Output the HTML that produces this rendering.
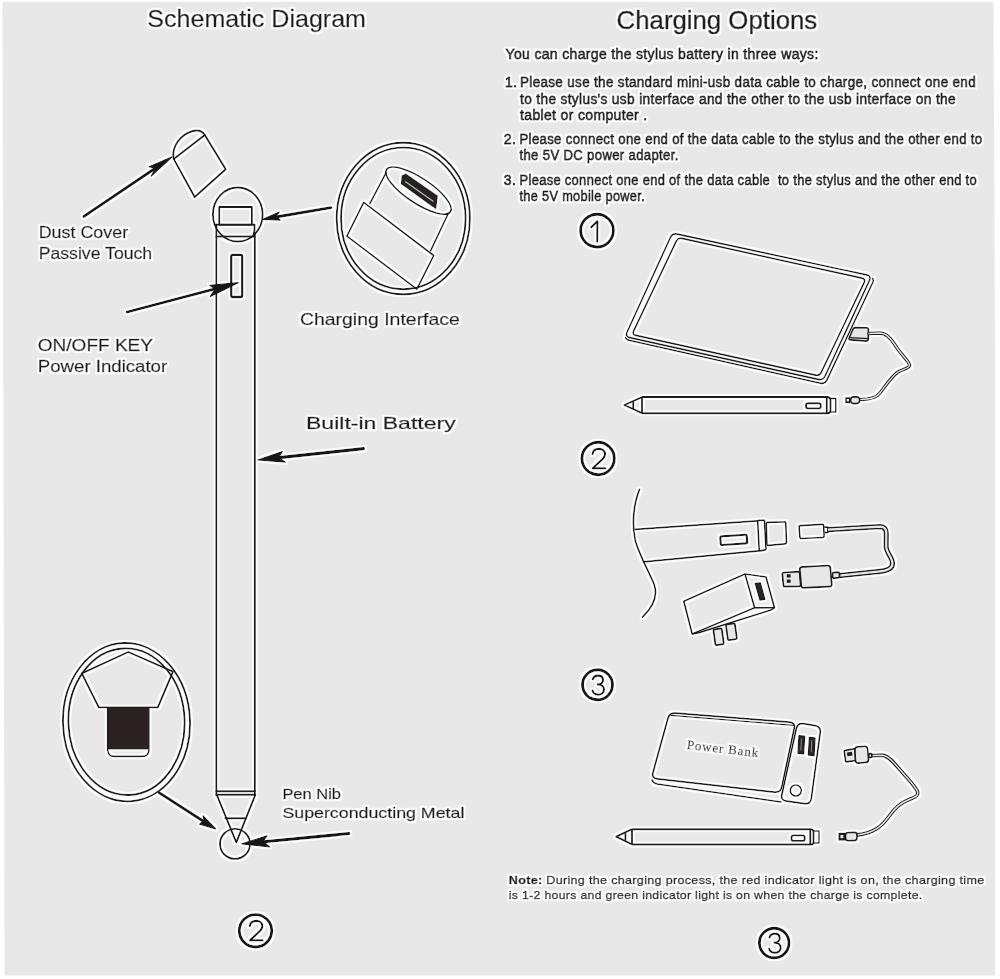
<!DOCTYPE html>
<html><head><meta charset="utf-8">
<style>
html,body{margin:0;padding:0;background:#ffffff;width:1000px;height:979px;overflow:hidden}
svg{display:block}
.t{font-family:"Liberation Sans",sans-serif;fill:#1b1b1b;stroke:#1b1b1b;stroke-width:0.42px}
.h{stroke-width:0.6px}
.b{stroke-width:0.85px}
.s{font-family:"Liberation Serif",serif;fill:#2a2a2a}
</style></head><body>
<svg width="1000" height="979" viewBox="0 0 1000 979">
<defs><filter id="halo" x="0" y="0" width="1000" height="979" filterUnits="userSpaceOnUse">
<feMorphology in="SourceAlpha" operator="dilate" radius="1.5" result="d"/>
<feGaussianBlur in="d" stdDeviation="0.7" result="db"/>
<feFlood flood-color="#fbfbfb"/>
<feComposite in2="db" operator="in" result="w"/>
<feMerge><feMergeNode in="w"/><feMergeNode in="SourceGraphic"/></feMerge>
</filter></defs>
<path d="M2.5 1.8 L993.5 1.8 L995.2 400 L995.2 975.5 L4.5 975.5 Z" fill="#e8e8e8"/>
<g filter="url(#halo)">
<!-- ===== LEFT: titles & labels ===== -->
<g class="t" opacity="0.999">
<text x="147.3" y="26.8" font-size="24.8" textLength="218.7" lengthAdjust="spacingAndGlyphs">Schematic Diagram</text>
<text x="38.7" y="238.2" font-size="17" textLength="89.5" lengthAdjust="spacingAndGlyphs">Dust Cover</text>
<text x="38.7" y="258.5" font-size="17" textLength="113.5" lengthAdjust="spacingAndGlyphs">Passive Touch</text>
<text x="37.8" y="351" font-size="16.7" textLength="115.2" lengthAdjust="spacingAndGlyphs">ON/OFF KEY</text>
<text x="37.8" y="372.3" font-size="16.7" textLength="129.4" lengthAdjust="spacingAndGlyphs">Power Indicator</text>
<text x="299.9" y="325.2" font-size="16.7" textLength="160" lengthAdjust="spacingAndGlyphs">Charging Interface</text>
<text x="306" y="428.8" font-size="17" textLength="149.7" lengthAdjust="spacingAndGlyphs">Built-in Battery</text>
<text x="282.4" y="799" font-size="14.5" textLength="58.6" lengthAdjust="spacingAndGlyphs">Pen Nib</text>
<text x="282.4" y="817.6" font-size="15" textLength="182" lengthAdjust="spacingAndGlyphs">Superconducting Metal</text>
</g>

<!-- ===== RIGHT: text ===== -->
<g class="t" opacity="0.999">
<text x="616.6" y="29" font-size="26.5" textLength="200.6" class="h" lengthAdjust="spacingAndGlyphs">Charging Options</text>
<g font-size="14" letter-spacing="0.35" class="b">
<text x="505.5" y="59.4" textLength="313.2" lengthAdjust="spacingAndGlyphs">You can charge the stylus battery in three ways:</text>
<text x="505" y="87.2">1.</text>
<text x="520" y="87.2" textLength="456" lengthAdjust="spacingAndGlyphs">Please use the standard mini-usb data cable to charge, connect one end</text>
<text x="520" y="103.5" textLength="436" lengthAdjust="spacingAndGlyphs">to the stylus's usb interface and the other to the usb interface on the</text>
<text x="520" y="119.5">tablet or computer .</text>
<text x="503.8" y="143.8">2.</text>
<text x="519.5" y="143.8" textLength="463" lengthAdjust="spacingAndGlyphs">Please connect one end of the data cable to the stylus and the other end to</text>
<text x="519.5" y="159.5" textLength="159.2" lengthAdjust="spacingAndGlyphs">the 5V DC power adapter.</text>
<text x="503.8" y="185">3.</text>
<text x="519.5" y="185" textLength="457.5" lengthAdjust="spacingAndGlyphs">Please connect one end of the data cable&#160; to the stylus and the other end to</text>
<text x="519.5" y="200.5" textLength="125.5" lengthAdjust="spacingAndGlyphs">the 5V mobile power.</text>
</g>
<g font-size="11.8" letter-spacing="0.3" class="b" style="stroke-width:0.5px">
<text x="508.8" y="883.8" textLength="475.7" lengthAdjust="spacingAndGlyphs"><tspan font-weight="bold">Note:</tspan> During the charging process, the red indicator light is on, the charging time</text>
<text x="508.8" y="898.8" textLength="413.7" lengthAdjust="spacingAndGlyphs">is 1-2 hours and green indicator light is on when the charge is complete.</text>
</g>
</g>

<!-- ===== LEFT drawings ===== -->
<g fill="none" stroke="#1a1a1a" stroke-width="1.9" stroke-linejoin="round" stroke-linecap="round">
<!-- dust cover -->
<path d="M173.8 159.1 L204.8 135 L225.7 169.2 L194.7 197 Z"/>
<path d="M173.6 158.5 C171.5 147 180 134.5 193 131 C198.5 129.8 202.5 131.3 204.8 135"/>
<!-- stylus top -->
<ellipse cx="237.75" cy="214.5" rx="24.85" ry="27"/>
<rect x="219.2" y="207" width="32.7" height="17.7"/>
<path d="M215.8 224.7 L254.4 224.7"/>
<path d="M254.4 224.7 Q255.2 230 253.5 234.8"/>
<path d="M216.3 236.5 L254.8 236.5"/>
<!-- body -->
<path d="M216.3 224.7 L216.3 795"/>
<path d="M254.9 233 L254.9 795"/>
<path d="M216.3 791.2 L254.9 791.2"/>
<path d="M216.3 794.8 L254.9 794.8"/>
<!-- cone -->
<path d="M216.8 794.8 L236.3 842.3 L255.3 794.8"/>
<path d="M225.4 818.2 L245.4 818.2"/>
<circle cx="235" cy="843.9" r="15"/>
<!-- charging interface magnified -->
<ellipse cx="403.3" cy="218.5" rx="66.6" ry="75.8"/>
<ellipse cx="403.3" cy="218.4" rx="62.3" ry="70.8"/>
<!-- nib magnified -->
<ellipse cx="126.5" cy="722.2" rx="63.5" ry="79.2" transform="rotate(-2 126.5 722.2)"/>
<ellipse cx="126.5" cy="721.7" rx="58.1" ry="73.3" transform="rotate(-2 126.5 721.7)"/>
<path d="M98.8 707.4 L81.8 673.4 L128.3 652 L173 671.7 L157.8 707.4 Z"/>
</g>
<!-- button -->
<rect x="231.2" y="254.8" width="11" height="42.2" rx="1.5" fill="none" stroke="#1a1a1a" stroke-width="2.3"/>
<!-- nib dark -->
<path d="M107.7 707.6 L148.9 707.6 L148.9 749.5 L107.7 749.5 Z" fill="#2b2424"/>
<path d="M107.7 707.6 L107.7 750 Q108 756.4 114 756.4 L142.6 756.4 Q148.6 756.4 148.9 750 L148.9 707.6" fill="none" stroke="#1a1a1a" stroke-width="1.6"/>
<!-- charging interface cylinder -->
<g fill="none" stroke="#1a1a1a" stroke-width="1.6" stroke-linejoin="round">
<ellipse cx="418.5" cy="190.6" rx="38.3" ry="12.5" transform="rotate(33.5 418.5 190.6)"/>
<path d="M386.5 171.8 L369.6 204.1"/>
<path d="M448.5 213 L430.3 251.3"/>
<path d="M363.7 202.4 L433.7 255.5 L416.8 289.2 L346.9 236.1 Z"/>
</g>
<path d="M401.6 175.5 L405.8 173.4 L437.9 195.7 L436.2 209.2 L432 206.6 L400.8 183.9 Z" fill="#262222"/>
<path d="M405.2 181.6 L433.5 201.6" stroke="#bdbdbd" stroke-width="1.2" fill="none"/>
<!-- arrows -->
<g stroke="#141414" stroke-width="2.8" stroke-linecap="round" fill="#141414" stroke-linejoin="round">
<path d="M83.9 216.4 L166 161" />
<path d="M172.2 156.8 L149 166.8 L155.5 168 L151.3 176.1 Z" stroke-width="1.2"/>
<path d="M127.2 312 L232 284.3"/>
<path d="M238.3 282.7 L209.7 285.3 L215 289 L210.4 296.4 Z" stroke-width="1.2"/>
<path d="M331 207.6 L270 218"/>
<path d="M262.7 219.3 L279.3 212 L276 216.3 L280.2 220.2 Z" stroke-width="1.2"/>
<path d="M363.4 448.6 L265 459.2" stroke-width="3.2"/>
<path d="M257.8 460 L282.4 451.6 L278.5 457.5 L285.4 462.2 Z" stroke-width="1.2"/>
<path d="M159 792.6 L210 825.5"/>
<path d="M215.7 829 L203.1 816 L204 820.5 L199.5 824.1 Z" stroke-width="1.2"/>
<path d="M348.8 833.6 L248 843.2" stroke-width="3"/>
<path d="M241.8 843.9 L267 835.8 L263 841.5 L269.7 847 Z" stroke-width="1.2"/>
</g>

<!-- ===== circled numbers ===== -->
<g fill="none" stroke="#141414" stroke-width="2.9" stroke-linecap="round" stroke-linejoin="round">
<circle cx="597" cy="230.6" r="16.4"/>
<path d="M591.2 227.2 L597.4 221.3 L597.2 241.6" stroke-width="2.1"/>
<circle cx="598.1" cy="458.5" r="16.2"/>
<path d="M592.6 454 C593 450.5 596 448.9 599 448.9 C602.5 448.9 605 451 605 454.2 C605 457.2 602.5 459.3 600 461.5 L592.8 468.3 L605.2 468.3" stroke-width="2.1"/>
<circle cx="597.5" cy="684.8" r="15"/>
<path d="M592.8 679.2 C593.5 676.8 595.5 675.6 598 675.6 C601 675.6 603 677.4 603 680 C603 682.6 600.8 684.4 597.8 684.4 C601.5 684.4 604 686.5 604 689.4 C604 692.6 601.3 694.6 598 694.6 C595.3 694.6 593.2 693.2 592.5 690.6" stroke-width="2.1"/>
<circle cx="255.5" cy="930.8" r="16.2"/>
<path d="M249.8 926 C250.3 922.5 253.3 920.9 256.3 920.9 C259.8 920.9 262.3 923 262.3 926.2 C262.3 929.2 259.8 931.3 257.3 933.5 L250.1 940.3 L262.5 940.3" stroke-width="2.1"/>
<circle cx="774.2" cy="943" r="14.8"/>
<path d="M769.5 937.4 C770.2 935 772.2 933.8 774.7 933.8 C777.7 933.8 779.7 935.6 779.7 938.2 C779.7 940.8 777.5 942.6 774.5 942.6 C778.2 942.6 780.7 944.7 780.7 947.6 C780.7 950.8 778 952.8 774.7 952.8 C772 952.8 769.9 951.4 769.2 948.8" stroke-width="2.1"/>
</g>


<!-- RIGHT drawings -->
<g fill="none" stroke="#1a1a1a" stroke-width="1.6" stroke-linejoin="round" stroke-linecap="round">
<path d="M677.4 234.1 L866.6 274.9 Q871.5 276.0 869.4 280.5 L825.1 376.0 Q823.0 380.5 818.1 379.4 L629.9 337.6 Q625.0 336.5 627.1 332.0 L670.4 237.5 Q672.5 233.0 677.4 234.1 Z"/>
<path d="M681.9 238.4 L861.9 278.1 Q865.8 279.0 864.1 282.6 L821.2 372.4 Q819.5 376.0 815.6 375.1 L635.9 335.4 Q632.0 334.5 633.7 330.9 L676.3 241.1 Q678.0 237.5 681.9 238.4 Z"/>
<path d="M872.6 278.5 Q873.8 280 872.8 282.5 L826.6 380.6 Q824.6 384 820.5 383.2 L630 340.5 Q626.3 339.6 625.6 337.5"/>
</g>
<path d="M855.6 327.6 L866.6 327.8 Q868.6 327.8 868.5 329.8 L868.3 339.2 Q868.2 341.2 866.2 341.1 L850.3 339.9 Q848.3 339.8 849.1 338.0 L852.8 329.4 Q853.6 327.6 855.6 327.6 Z" fill="#e7e7e7" stroke="#1a1a1a" stroke-width="1.6"/>
<path d="M849.5 337.6 L868 338.6" stroke="#1a1a1a" stroke-width="1.2" fill="none"/>
<path d="M869 333.5 L879 333 C886 333 890 337 897 348 C903 357 910 362 909.5 365.5 C909 368.5 903 369 898 372 C892 376 886 385 880 393 C876 398.5 868 399.5 860 399.5" fill="none" stroke="#1a1a1a" stroke-width="3.6" stroke-linecap="round" stroke-linejoin="round"/>
<path d="M869 333.5 L879 333 C886 333 890 337 897 348 C903 357 910 362 909.5 365.5 C909 368.5 903 369 898 372 C892 376 886 385 880 393 C876 398.5 868 399.5 860 399.5" fill="none" stroke="#e4e4e4" stroke-width="1.4" stroke-linecap="round" stroke-linejoin="round"/>
<path d="M853.5 396.9 L856.6 396.9 Q859.6 396.8 859.6 399.8 L859.6 400.6 Q859.6 403.6 856.6 403.6 L853.5 403.6 Q850.5 403.6 850.5 400.6 L850.5 400.0 Q850.5 397.0 853.5 396.9 Z" fill="#e7e7e7" stroke="#1a1a1a" stroke-width="1.6"/>
<rect x="845.2" y="397.2" width="5" height="6" fill="#1a1a1a"/>
<rect x="846.6" y="399" width="2.4" height="2.4" fill="#e7e7e7"/>
<g fill="none" stroke="#1a1a1a" stroke-width="1.9" stroke-linejoin="round">
<path d="M642 397.2 L624.4 405 L642 413.2"/>
<path d="M633.2 401.2 L633.2 409"/>
<path d="M642 397.2 L642 413.2"/>
<path d="M642 397 L827.5 397 Q830.5 397.5 830.5 400 L830.5 410.5 Q830.5 413.2 827.5 413.2 L642 413.2"/>
<path d="M826.8 397 L826.8 413.2"/>
<path d="M830.5 398.4 L835.8 398.4 L835.8 412 L830.5 412" stroke-width="1.5"/>
<rect x="806" y="403.2" width="14.8" height="5.2" rx="2.2"/>
</g>
<g fill="none" stroke="#1a1a1a" stroke-width="1.7" stroke-linejoin="round" stroke-linecap="round">
<path d="M639.5 489.4 C634 503 631.5 522 635.2 540 C638 552 648 570 654 584 C658 595 654 606 642.5 617.2"/>
<path d="M635.2 529.3 L757.6 520.8"/>
<path d="M643.4 561.8 L758.8 550.8"/>
<path d="M758.6 520.4 L763.4 520.1 Q764.4 520.0 764.5 521.0 L766.0 548.7 Q766.1 549.7 765.1 549.9 L760.3 550.8 Q759.3 551.0 759.2 550.0 L757.7 521.5 Q757.6 520.5 758.6 520.4 Z"/>
<path d="M767.6 522.4 L784.2 521.8 Q785.7 521.7 785.8 523.2 L786.4 542.3 Q786.5 543.8 785.0 543.9 L768.5 545.4 Q767.0 545.5 766.9 544.0 L766.2 524.0 Q766.1 522.5 767.6 522.4 Z"/>
</g>
<rect x="720.5" y="535.6" width="26.5" height="8.6" rx="1.2" transform="rotate(-4 733.7 539.9)" fill="none" stroke="#1a1a1a" stroke-width="2.2"/>
<g fill="none" stroke="#1a1a1a" stroke-width="1.7" stroke-linejoin="round">
<path d="M800.5 525.7 L822.1 524.4 Q823.6 524.3 823.7 525.8 L824.1 535.9 Q824.2 537.4 822.7 537.5 L801.5 538.5 Q800.0 538.6 799.9 537.1 L799.1 527.3 Q799.0 525.8 800.5 525.7 Z"/>
<path d="M824.2 527.2 L827.8 527 L827.8 532.4 L824.4 532.6"/>
</g>
<path d="M827.8 529.6 L880 526.6 C884 526.6 886.3 529 886.3 533 L886.2 546.5 C886.4 553 892.5 557.5 892.5 563.5 C892.5 568 888 570.6 880 571.3 L839.5 575.6" fill="none" stroke="#1a1a1a" stroke-width="5.2" stroke-linecap="butt" stroke-linejoin="round"/>
<path d="M827.8 529.6 L880 526.6 C884 526.6 886.3 529 886.3 533 L886.2 546.5 C886.4 553 892.5 557.5 892.5 563.5 C892.5 568 888 570.6 880 571.3 L839.5 575.6" fill="none" stroke="#e6e6e6" stroke-width="2.2" stroke-linecap="butt" stroke-linejoin="round"/>
<g fill="#e7e7e7" stroke="#1a1a1a" stroke-width="1.7" stroke-linejoin="round">
<path d="M783.7 572.5 L798.1 571.7 Q799.6 571.6 799.7 573.1 L800.7 584.7 Q800.8 586.2 799.3 586.3 L784.9 586.7 Q783.4 586.8 783.3 585.3 L782.3 574.1 Q782.2 572.6 783.7 572.5 Z"/>
<path d="M802.1 566.9 L827.7 565.5 Q830.2 565.4 830.4 567.9 L831.8 584.1 Q832.0 586.6 829.5 586.7 L803.9 587.9 Q801.4 588.0 801.2 585.5 L799.8 569.5 Q799.6 567.0 802.1 566.9 Z"/>
<path d="M833.9 572.4 L837.9 572.2 Q839.4 572.2 839.5 573.7 L839.5 576.3 Q839.6 577.8 838.1 577.9 L834.1 578.1 Q832.6 578.2 832.5 576.7 L832.5 573.9 Q832.4 572.4 833.9 572.4 Z"/>
</g>
<rect x="786.8" y="574.3" width="3.8" height="3.2" fill="#1a1a1a"/>
<rect x="786.8" y="579.6" width="3.8" height="3.2" fill="#1a1a1a"/>
<g fill="none" stroke="#1a1a1a" stroke-width="1.7" stroke-linejoin="round">
<path d="M683.8 601.2 L745 574 L766 577 L774.4 607.6 L754.6 607.8 L692.2 634 Z"/>
<path d="M745 574 L754.6 607.8"/>
<path d="M692.2 634 L699 632.6 L771 610 L774.4 607.6"/>
</g>
<path d="M755.3 583.5 L760.3 583 L764.8 599.3 L760 600 Z" fill="#2a2626" stroke="#1a1a1a" stroke-width="1.4" stroke-linejoin="round"/>
<g fill="#e7e7e7" stroke="#1a1a1a" stroke-width="1.7">
<rect x="714.3" y="628.8" width="8.6" height="16" rx="1.2" transform="rotate(-8 718.6 636.8)"/>
<rect x="726.8" y="623.8" width="9.2" height="16" rx="1.2" transform="rotate(-8 731.4 631.8)"/>
</g>
<g fill="none" stroke="#1a1a1a" stroke-width="1.7" stroke-linejoin="round" stroke-linecap="round">
<path d="M675.5 713.1 L789.5 722.1 Q795.5 722.6 794.2 728.5 L781.8 786.9 Q780.5 792.8 774.5 792.1 L657.4 778.9 Q651.4 778.2 653.0 772.4 L667.9 718.4 Q669.5 712.6 675.5 713.1 Z"/>
<path d="M803.5 723.7 L815.1 725.7 Q821.0 726.8 820.2 732.7 L811.3 798.5 Q810.5 804.4 804.6 803.6 L786.5 801.2 Q780.6 800.4 781.9 794.5 L796.3 728.5 Q797.6 722.6 803.5 723.7 Z"/>
<path d="M652 780 Q653 783 657 784 L781 802"/>
<path d="M671 715.4 L794 725.4" stroke-width="1.1"/>
</g>
<g fill="#2a2626" stroke="#1a1a1a" stroke-width="1.4" stroke-linejoin="round">
<path d="M799 735.6 L804.6 736.2 L803.6 753.8 L798 753.2 Z"/>
<path d="M809.4 737.4 L815 738 L814 755.6 L808.4 755 Z"/>
</g>
<path d="M801.4 738.5 L800.8 750.5 M811.8 740.3 L811.2 752.3" stroke="#8a8a8a" stroke-width="1"/>
<circle cx="795.8" cy="790.5" r="5.5" fill="none" stroke="#1a1a1a" stroke-width="1.6"/>
<text x="686.5" y="748.7" font-family="Liberation Serif" font-size="12.8" fill="#3a3a3a" stroke="#3a3a3a" stroke-width="0.25" textLength="72.5" lengthAdjust="spacingAndGlyphs" transform="rotate(6.7 686.5 748.7)" letter-spacing="0.8">Power Bank</text>
<path d="M871.7 755.6 L882.5 755.2 C889 756 895 764 902 772 C908 779 915 786 917.5 791.5 C919 796 914 797.5 908 800 C900 803 894 809 888.5 817 C882 826 874 833 857 835" fill="none" stroke="#1a1a1a" stroke-width="3.8" stroke-linecap="butt" stroke-linejoin="round"/>
<path d="M871.7 755.6 L882.5 755.2 C889 756 895 764 902 772 C908 779 915 786 917.5 791.5 C919 796 914 797.5 908 800 C900 803 894 809 888.5 817 C882 826 874 833 857 835" fill="none" stroke="#e4e4e4" stroke-width="1.5" stroke-linecap="butt" stroke-linejoin="round"/>
<g fill="#e7e7e7" stroke="#1a1a1a" stroke-width="1.6" stroke-linejoin="round">
<path d="M845.1 750.4 L854.0 748.8 Q855.0 748.6 855.1 749.6 L855.9 759.6 Q856.0 760.6 855.0 760.7 L846.6 761.9 Q845.6 762.0 845.5 761.0 L844.2 751.6 Q844.1 750.6 845.1 750.4 Z"/>
<path d="M857.7 746.8 L864.5 746.2 Q867.5 746.0 867.7 749.0 L868.6 759.2 Q868.8 762.2 865.8 762.5 L858.6 763.1 Q855.6 763.4 855.4 760.4 L854.9 750.0 Q854.7 747.0 857.7 746.8 Z"/>
<path d="M869.8 753.6 L870.8 753.6 Q871.8 753.6 871.8 754.6 L871.8 756.6 Q871.8 757.6 870.8 757.6 L869.8 757.6 Q868.8 757.6 868.8 756.6 L868.8 754.6 Q868.8 753.6 869.8 753.6 Z"/>
<path d="M848.0 832.5 L854.5 832.3 Q857.0 832.3 857.0 834.8 L857.0 838.1 Q857.0 840.6 854.5 840.6 L848.0 840.8 Q845.5 840.8 845.5 838.3 L845.5 835.0 Q845.5 832.5 848.0 832.5 Z"/>
</g>
<path d="M847 752.5 L852 751.8 L852.4 755.6 L847.4 756.2 Z" fill="#1a1a1a"/>
<rect x="838.4" y="832.8" width="7" height="7.8" fill="#1a1a1a"/>
<rect x="840.4" y="835" width="3" height="3.2" fill="#e7e7e7"/>
<g fill="none" stroke="#1a1a1a" stroke-width="1.9" stroke-linejoin="round">
<path d="M632 829.2 L616.2 836.6 L632 844.4"/>
<path d="M625.4 832.8 L625.4 840.8"/>
<path d="M632 829.2 L632 844.4"/>
<path d="M632 829.2 L811 829.2 Q813.5 829.6 813.5 832 L813.5 842 Q813.5 844.5 811 844.5 L632 844.5"/>
<path d="M810.2 829.2 L810.2 844.5"/>
<path d="M813.5 831 L819 831 L819 843 L813.5 843" stroke-width="1.5"/>
<rect x="791.5" y="835.4" width="13.2" height="5.5" rx="2.2"/>
</g>
</g></svg>
</body></html>
